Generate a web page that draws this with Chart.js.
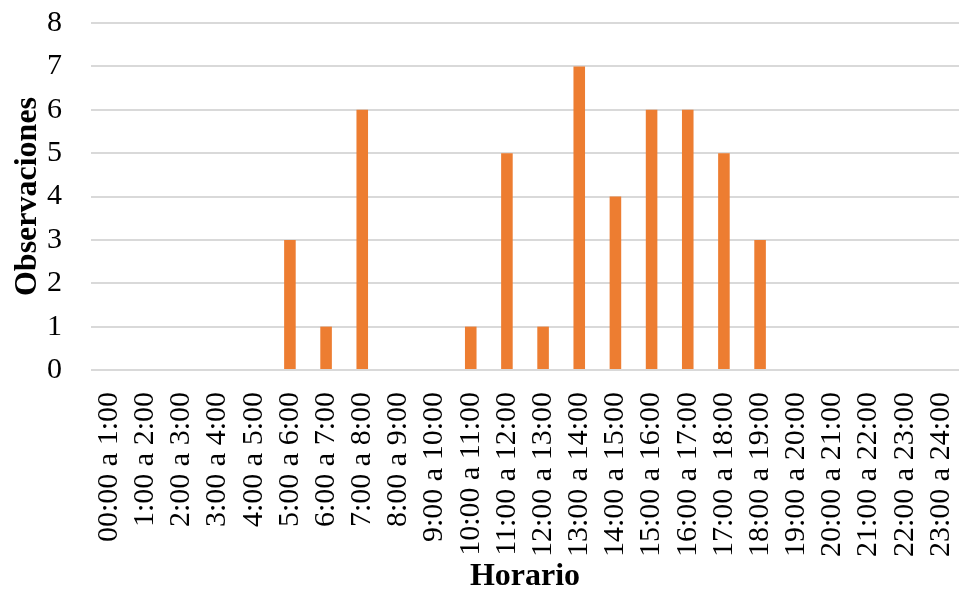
<!DOCTYPE html>
<html>
<head>
<meta charset="utf-8">
<script src="https://cdn.jsdelivr.net/npm/chart.js@4"></script>
<style>
  html, body { margin: 0; padding: 0; background: #fff; }
  #wrap { width: 959px; height: 590px; }
</style>
</head>
<body>
<div id="wrap"><canvas id="chart"></canvas></div>
<script>
// categories (time slots) and observations per slot
const horarios = [
  '00:00 a 1:00', '1:00 a 2:00', '2:00 a 3:00', '3:00 a 4:00', '4:00 a 5:00',
  '5:00 a 6:00', '6:00 a 7:00', '7:00 a 8:00', '8:00 a 9:00', '9:00 a 10:00',
  '10:00 a 11:00', '11:00 a 12:00', '12:00 a 13:00', '13:00 a 14:00', '14:00 a 15:00',
  '15:00 a 16:00', '16:00 a 17:00', '17:00 a 18:00', '18:00 a 19:00', '19:00 a 20:00',
  '20:00 a 21:00', '21:00 a 22:00', '22:00 a 23:00', '23:00 a 24:00'
];
const observaciones = [0, 0, 0, 0, 0, 3, 1, 6, 0, 0, 1, 5, 1, 7, 4, 6, 6, 5, 3, 0, 0, 0, 0, 0];

const serif = "'Liberation Serif', 'Times New Roman', serif";

const ctx = document.querySelector('#chart').getContext('2d');

new Chart(ctx, {
  type: 'bar',
  data: {
    labels: horarios,
    datasets: [{
      label: 'Observaciones',
      data: observaciones,
      backgroundColor: '#ED7D31',
      barPercentage: 0.64,
      categoryPercentage: 0.5
    }]
  },
  options: {
    responsive: true,
    maintainAspectRatio: false,
    animation: false,
    layout: { padding: { top: 23, right: 0, left: 9, bottom: 0 } },
    plugins: {
      legend: { display: false },
      tooltip: { enabled: false }
    },
    scales: {
      x: {
        grid: { display: false, drawTicks: false },
        border: { display: false },
        ticks: {
          color: '#000',
          font: { family: serif, size: 30 },
          minRotation: 90,
          maxRotation: 90,
          autoSkip: false,
          padding: 22
        },
        title: {
          display: true,
          text: 'Horario',
          color: '#000',
          font: { family: serif, size: 32, weight: 'bold' },
          padding: { top: 0, bottom: -6 }
        },
        // fixed axis box so the plot runs to the edges like the original
        afterFit: (scale) => {
          scale.paddingLeft = 0;
          scale.paddingRight = 0;
          scale.height = 220;
        }
      },
      y: {
        min: 0,
        max: 8,
        grid: { color: '#d9d9d9', lineWidth: 2, drawTicks: false },
        border: { display: false },
        ticks: {
          stepSize: 1,
          color: '#000',
          font: { family: serif, size: 30 },
          padding: 29
        },
        title: {
          display: true,
          text: 'Observaciones',
          color: '#000',
          font: { family: serif, size: 32, weight: 'bold' },
          padding: { top: 0, bottom: 0 }
        },
        afterFit: (scale) => {
          scale.paddingTop = 0;
          scale.paddingBottom = 0;
          scale.width = 82;
        }
      }
    }
  }
});
</script>
</body>
</html>
